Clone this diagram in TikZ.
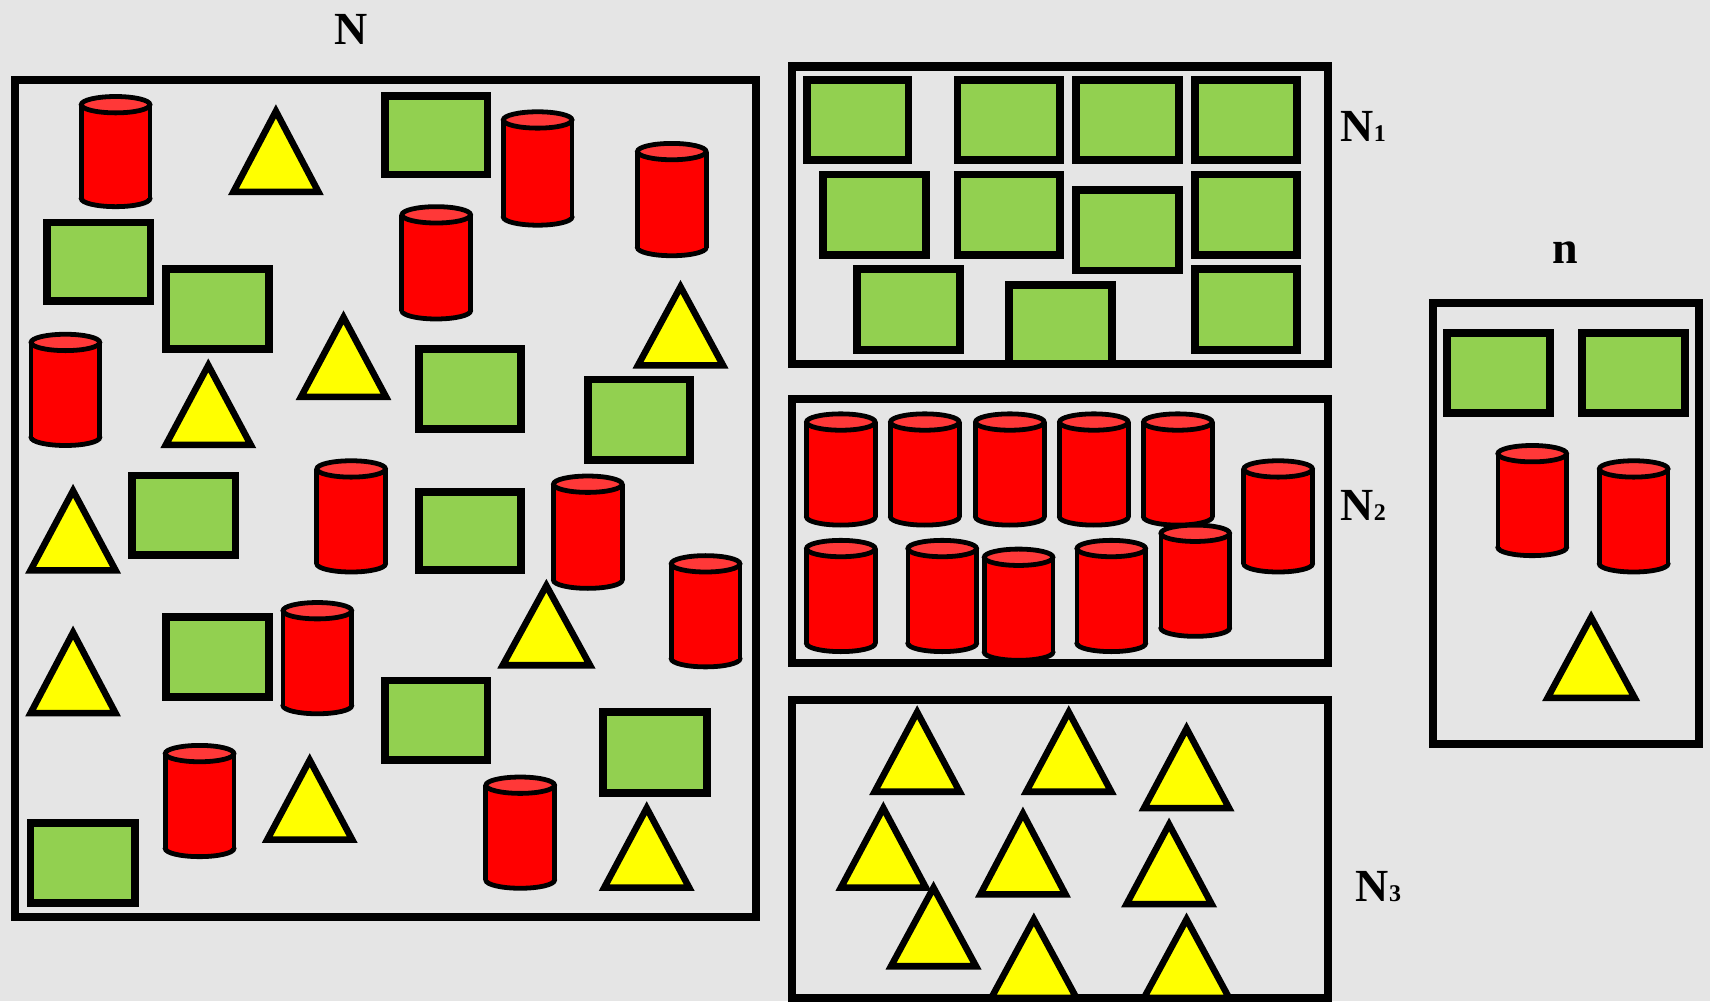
\documentclass[tikz,border=0pt]{standalone}
\usepackage{fontspec}
\setmainfont{Liberation Serif}
\definecolor{bg}{HTML}{E5E5E5}
\definecolor{gfill}{HTML}{92D050}
\definecolor{rbody}{HTML}{FF0000}
\definecolor{rtop}{HTML}{FF3838}
\definecolor{yfill}{HTML}{FFFF00}
\tikzset{
  boxframe/.style={draw=black,line width=4.2pt},
  rectshape/.style={fill=gfill,draw=black,line width=4.1pt},
  trishape/.style={fill=yfill,draw=black,line width=3.4pt,line join=miter},
  cylline/.style={draw=black,line width=2.5pt},
  lbl/.style={inner sep=0pt,font=\fontsize{24}{28}\selectfont\bfseries}
}
\newcommand\grect[4]{\filldraw[rectshape] (#1,#2) rectangle (#3,#4);}
\newcommand\ytri[4]{\filldraw[trishape] (#1,#2) -- (#1+#4,#3) -- (#1-#4,#3) -- cycle;}
\newcommand\rcyl[3]{%
  \filldraw[cylline,fill=rbody] (#1,#3-6) ellipse [x radius=31.5, y radius=7.5];
  \fill[rbody] (#1-31.5,#2+8) rectangle (#1+31.5,#3-6);
  \draw[cylline] (#1-31.5,#2+8) -- (#1-31.5,#3-6) (#1+31.5,#2+8) -- (#1+31.5,#3-6);
  \filldraw[cylline,fill=rtop] (#1,#2+8) ellipse [x radius=31.5, y radius=7.5];}
\newcommand\subdig[1]{{\fontsize{12.5}{12.5}\selectfont #1}}
\begin{document}
\begin{tikzpicture}[x=0.02cm,y=-0.02cm]
\fill[bg] (0,0) rectangle (1568,918);
\useasboundingbox (0,0) rectangle (1568,918);
% frames
\draw[boxframe] (13.7,73.7) rectangle (693,841);
\draw[boxframe] (726,61) rectangle (1218,334);
\draw[boxframe] (726,366) rectangle (1218,608);
\draw[boxframe] (726,642) rectangle (1218,915);
\draw[boxframe] (1314,278) rectangle (1558,682);
% labels
\node[lbl] (labN) at (322,27) {N};
\node[lbl,anchor=base west] (labN1) at (1229,130) {N\subdig{1}};
\node[lbl,anchor=base west] (labN2) at (1229,477) {N\subdig{2}};
\node[lbl,anchor=base west] (labN3) at (1243,827) {N\subdig{3}};
\node[lbl] (labn) at (1435,232) {n};
% big box N : rectangles
\grect{353}{88}{447}{160}
\grect{43}{204}{138}{276}
\grect{152}{247}{247}{320}
\grect{384}{320}{478}{393}
\grect{539}{348}{633}{422}
\grect{121}{436}{216}{509}
\grect{384}{451}{478}{523}
\grect{152}{566}{247}{639}
\grect{353}{624}{447}{697}
\grect{553}{653}{648}{727}
\grect{28}{755}{124}{828}
% cylinders
\rcyl{106}{88}{188}
\rcyl{493}{102}{205}
\rcyl{616}{131}{233}
\rcyl{400}{189}{291}
\rcyl{60}{306}{407}
\rcyl{322}{422}{523}
\rcyl{539}{436}{538}
\rcyl{647}{509}{610}
\rcyl{291}{552}{653}
\rcyl{183}{683}{784}
\rcyl{477}{712}{813}
% triangles
\ytri{253}{102}{176}{39}
\ytri{624}{263}{335}{39}
\ytri{315}{291}{364}{39}
\ytri{191}{335}{408}{39}
\ytri{67}{450}{523}{39}
\ytri{501}{537}{610}{40}
\ytri{67}{580}{654}{39}
\ytri{284}{697}{770}{39}
\ytri{593}{741}{814}{39}
% N1
\grect{740}{73}{833}{147}
\grect{878}{73}{972}{147}
\grect{987}{73}{1081}{147}
\grect{1096}{73}{1189}{147}
\grect{755}{160}{849}{234}
\grect{878}{160}{972}{234}
\grect{987}{174}{1081}{248}
\grect{1096}{160}{1189}{234}
\grect{786}{247}{880}{321}
\grect{925}{261}{1020}{334}
\grect{1096}{247}{1189}{321}
% N2
\rcyl{771}{379}{480}
\rcyl{848}{379}{480}
\rcyl{926}{379}{480}
\rcyl{1003}{379}{480}
\rcyl{1080}{379}{480}
\rcyl{1172}{422}{523}
\rcyl{771}{495}{596}
\rcyl{864}{495}{596}
\rcyl{934}{503}{604}
\rcyl{1019}{495}{596}
\rcyl{1096}{481}{582}
% N3
\ytri{841}{653}{726}{39}
\ytri{980}{653}{726}{39}
\ytri{1088}{668}{741}{39}
\ytri{810}{741}{814}{39}
\ytri{938}{746}{820}{39}
\ytri{1072}{756}{829}{39}
\ytri{856}{814}{886}{39}
\ytri{948}{843}{915}{39}
\ytri{1088}{843}{915}{39}
% n
\grect{1327}{305}{1421}{379}
\grect{1451}{305}{1545}{379}
\rcyl{1405}{408}{508}
\rcyl{1498}{422}{523}
\ytri{1459}{566}{640}{40}
\end{tikzpicture}
\end{document}
